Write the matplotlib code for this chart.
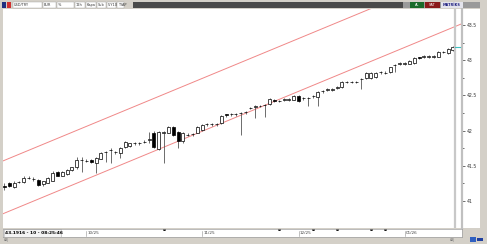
import numpy as np
from matplotlib import pyplot as plt
from matplotlib.patches import Rectangle
from matplotlib.lines import Line2D
from matplotlib.transforms import blended_transform_factory

# daily USD/TRY candles
opens = [41.21, 41.26, 41.20, 41.27, 41.27, 41.33, 41.31, 41.30, 41.24, 41.26,
         41.29, 41.41, 41.36, 41.38, 41.44, 41.48, 41.58, 41.57, 41.58, 41.54,
         41.60, 41.69, 41.72, 41.69, 41.68, 41.77, 41.78, 41.82, 41.82, 41.84,
         41.87, 41.97, 41.74, 41.97, 41.97, 42.05, 41.98, 41.85, 41.94, 41.95,
         41.97, 42.01, 42.09, 42.09, 42.09, 42.11, 42.23, 42.23, 42.23, 42.25,
         42.26, 42.32, 42.34, 42.35, 42.36, 42.38, 42.44, 42.42, 42.44, 42.44,
         42.44, 42.49, 42.46, 42.46, 42.49, 42.48, 42.56, 42.58, 42.58, 42.61,
         42.62, 42.69, 42.69, 42.69, 42.73, 42.75, 42.75, 42.76, 42.83, 42.82,
         42.83, 42.93, 42.95, 42.95, 42.95, 42.96, 43.04, 43.05, 43.05, 43.05,
         43.05, 43.12, 43.10, 43.14]
closes = [41.20, 41.21, 41.26, 41.27, 41.33, 41.33, 41.31, 41.23, 41.28, 41.33,
          41.40, 41.36, 41.41, 41.44, 41.48, 41.58, 41.58, 41.57, 41.55, 41.61,
          41.68, 41.69, 41.72, 41.69, 41.75, 41.84, 41.82, 41.82, 41.82, 41.84,
          41.87, 41.77, 41.98, 41.97, 42.05, 41.94, 41.85, 41.97, 41.94, 41.95,
          42.05, 42.08, 42.09, 42.09, 42.09, 42.21, 42.22, 42.23, 42.23, 42.25,
          42.26, 42.32, 42.34, 42.35, 42.36, 42.45, 42.42, 42.42, 42.44, 42.44,
          42.49, 42.42, 42.46, 42.46, 42.49, 42.55, 42.56, 42.58, 42.58, 42.61,
          42.69, 42.69, 42.69, 42.69, 42.73, 42.82, 42.82, 42.82, 42.83, 42.82,
          42.90, 42.93, 42.95, 42.95, 42.99, 43.03, 43.03, 43.05, 43.05, 43.05,
          43.12, 43.11, 43.16, 43.19]
highs = [41.25, 41.27, 41.28, 41.29, 41.36, 41.36, 41.34, 41.31, 41.29, 41.34,
         41.42, 41.43, 41.43, 41.45, 41.49, 41.62, 41.62, 41.59, 41.59, 41.62,
         41.69, 41.71, 41.75, 41.71, 41.77, 41.85, 41.83, 41.84, 41.84, 41.86,
         41.98, 41.99, 42.00, 42.00, 42.07, 42.07, 41.99, 41.98, 41.96, 41.97,
         42.06, 42.09, 42.11, 42.11, 42.11, 42.22, 42.24, 42.25, 42.25, 42.27,
         42.28, 42.34, 42.36, 42.37, 42.38, 42.46, 42.45, 42.44, 42.46, 42.46,
         42.50, 42.50, 42.48, 42.48, 42.51, 42.56, 42.58, 42.60, 42.60, 42.63,
         42.70, 42.71, 42.71, 42.71, 42.75, 42.83, 42.83, 42.83, 42.85, 42.84,
         42.91, 42.95, 42.97, 42.97, 43.00, 43.04, 43.05, 43.07, 43.07, 43.07,
         43.13, 43.13, 43.17, 43.20]
lows = [41.16, 41.20, 41.19, 41.25, 41.26, 41.31, 41.29, 41.22, 41.22, 41.25,
        41.28, 41.35, 41.35, 41.37, 41.43, 41.46, 41.41, 41.55, 41.54, 41.40,
        41.59, 41.56, 41.54, 41.67, 41.61, 41.76, 41.77, 41.80, 41.80, 41.82,
        41.82, 41.76, 41.72, 41.54, 41.96, 41.93, 41.75, 41.83, 41.92, 41.93,
        41.96, 42.00, 42.07, 42.07, 42.06, 42.10, 42.20, 42.21, 42.21, 41.94,
        42.24, 42.30, 42.18, 42.33, 42.19, 42.37, 42.41, 42.40, 42.42, 42.42,
        42.43, 42.41, 42.44, 42.35, 42.47, 42.35, 42.54, 42.56, 42.56, 42.59,
        42.61, 42.67, 42.67, 42.67, 42.59, 42.74, 42.74, 42.75, 42.81, 42.80,
        42.82, 42.83, 42.93, 42.93, 42.94, 42.95, 43.02, 43.03, 43.03, 43.03,
        43.04, 43.10, 43.09, 43.13]

# regression channel (bar index, price)
channel_x = [-1, 96]
channel_upper = [41.55, 44.30]
channel_lower = [40.80, 43.55]

month_labels = ["10/25", "11/25", "12/25", "01/26"]
month_bars = [17, 41, 61, 83]
event_bars = [33, 57, 64, 69, 76, 79]

y_ticks = [41.0, 41.5, 42.0, 42.5, 43.0, 43.5]
y_ticklabels = ["41", "41.5", "42", "42.5", "43", "43.5"]

status_text = "43.1916 - 10 - 08:25:46"

W, H = 487, 244
GRAY = "#d4d0c8"


def fbox(x0, y0, x1, y1):
    # pixel box (top-left origin) -> figure fraction rect
    return [x0 / W, 1 - y1 / H, (x1 - x0) / W, (y1 - y0) / H]


fig = plt.figure(figsize=(W / 100, H / 100), dpi=100, facecolor=GRAY)

# right white panel for price labels
fig.add_artist(Rectangle((462 / W, 1 - 228 / H), 18 / W, 219 / H,
                         transform=fig.transFigure, facecolor="white",
                         edgecolor="none", zorder=-1))

ax = fig.add_axes(fbox(3, 9, 462, 228))
ax.set_facecolor("white")
n = len(opens)
idx = np.arange(n)
o, c, h, l = map(np.array, (opens, closes, highs, lows))

ax.plot(channel_x, channel_upper, color="#f08888", lw=0.7, zorder=1)
ax.plot(channel_x, channel_lower, color="#f08888", lw=0.7, zorder=1)

ax.vlines(idx, l, h, color="#555555", lw=0.6, zorder=2)
bottoms = np.minimum(o, c)
heights = np.maximum(np.abs(c - o), 0.004)
faces = ["black" if cl < op else "white" for op, cl in zip(o, c)]
ax.bar(idx, heights, bottom=bottoms, width=0.62, color=faces,
       edgecolor="black", lw=0.5, zorder=3)

ax.set_xlim(-0.31, 94.9)
ax.set_ylim(40.617, 43.727)

# separator and last price marker
ax.plot([452 / 459, 452 / 459], [0, 1], transform=ax.transAxes,
        color="#c8c8c8", lw=1.6, zorder=4)
tr = blended_transform_factory(ax.transAxes, ax.transData)
ax.plot([452 / 459, 457 / 459], [closes[-1], closes[-1]], transform=tr,
        color="#40c0c0", lw=0.8, zorder=5)

for side in ["left", "top", "bottom"]:
    ax.spines[side].set_visible(False)
ax.spines["right"].set_color("#c0c0c0")
ax.spines["right"].set_linewidth(1.6)
ax.set_xticks([])
ax.yaxis.tick_right()
ax.set_yticks(y_ticks)
ax.set_yticklabels(y_ticklabels)
ax.set_yticks(np.arange(41.25, 43.6, 0.5), minor=True)
ax.tick_params(axis="y", which="major", length=2.5, width=0.5, pad=1,
               labelsize=3.3, colors="#333333")
ax.tick_params(axis="y", which="minor", length=1.2, width=0.5, colors="#333333")

# bottom date bar
dax = fig.add_axes(fbox(3, 229, 462, 237))
dax.set_facecolor("white")
dax.set_xlim(ax.get_xlim())
dax.set_ylim(0, 1)
dax.set_xticks([])
dax.set_yticks([])
for sp in dax.spines.values():
    sp.set_color("#a0a0a0")
    sp.set_linewidth(0.5)
for lab, b in zip(month_labels, month_bars):
    dax.plot([b, b], [0.15, 0.75], color="#909090", lw=0.4)
    dax.text(b + 0.3, 0.45, lab, fontsize=3, va="center", ha="left",
             color="#444444")
dax.plot(event_bars, [0.95] * len(event_bars), ls="none", marker="s",
         ms=1.0, color="black")
dax.add_patch(Rectangle((0, 0.05), 11.8, 0.9, facecolor="#f4f4f4",
                        edgecolor="#b0b0b0", lw=0.4))
dax.text(0.2, 0.45, status_text, fontsize=3.2, fontweight="bold",
         va="center", ha="left", color="black")

# top toolbar
fig.add_artist(Rectangle((133 / W, 1 - 8 / H), 270 / W, 6 / H,
                         transform=fig.transFigure, facecolor="#4a4a4a",
                         edgecolor="none"))
fig.add_artist(Rectangle((403 / W, 1 - 8 / H), 77 / W, 6 / H,
                         transform=fig.transFigure, facecolor="#9a9a9a",
                         edgecolor="none"))
boxes = [(13, 42, "USD/TRY"), (43, 56, "BUR"), (57, 74, "%"), (75, 85, "12h"),
         (86, 96, "Kapa"), (97, 106, "Sub"), (107, 116, "5/Y10"),
         (117, 124, "TYAP")]
for x0, x1, t in boxes:
    fig.add_artist(Rectangle((x0 / W, 1 - 8 / H), (x1 - x0) / W, 6 / H,
                             transform=fig.transFigure, facecolor="white",
                             edgecolor="#a0a0a0", lw=0.3))
    fig.text((x0 + 1) / W, 1 - 5 / H, t, fontsize=2.5, va="center",
             color="#333333")
fig.add_artist(Rectangle((2 / W, 1 - 8 / H), 4 / W, 6 / H,
                         transform=fig.transFigure, facecolor="#203080"))
fig.add_artist(Rectangle((7 / W, 1 - 8 / H), 4 / W, 6 / H,
                         transform=fig.transFigure, facecolor="#d03030"))
fig.add_artist(Rectangle((410 / W, 1 - 8 / H), 14 / W, 6 / H,
                         transform=fig.transFigure, facecolor="#1a6b2a"))
fig.text(417 / W, 1 - 5 / H, "AL", fontsize=2.5, va="center", ha="center",
         color="white")
fig.add_artist(Rectangle((425 / W, 1 - 8 / H), 15 / W, 6 / H,
                         transform=fig.transFigure, facecolor="#8a1a1a"))
fig.text(432 / W, 1 - 5 / H, "SAT", fontsize=2.5, va="center", ha="center",
         color="white")
fig.add_artist(Rectangle((441 / W, 1 - 8 / H), 22 / W, 6 / H,
                         transform=fig.transFigure, facecolor="#e4e4ec"))
fig.text(452 / W, 1 - 5 / H, "MATRİKS", fontsize=2.5, va="center",
         ha="center", color="#202080", fontweight="bold")

# bottom status icons
fig.text(4 / W, 1 - 240.5 / H, "AAJ", fontsize=2.2, va="center", color="#777777")
fig.text(450 / W, 1 - 240.5 / H, "AAJ", fontsize=2.2, va="center", color="#777777")
fig.add_artist(Rectangle((470 / W, 1 - 242 / H), 6 / W, 5 / H,
                         transform=fig.transFigure, facecolor="#3060c0"))
fig.add_artist(Rectangle((477 / W, 1 - 241 / H), 6 / W, 3 / H,
                         transform=fig.transFigure, facecolor="#2040a0"))

fig.savefig("out.png", dpi=100, facecolor=fig.get_facecolor())
